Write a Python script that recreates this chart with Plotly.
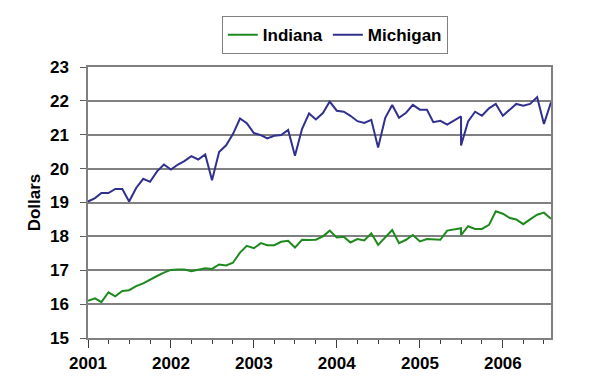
import plotly.graph_objects as go

# Monthly dates (July 2005 appears twice in the source data)
months = [
    "2001-01", "2001-02", "2001-03", "2001-04", "2001-05", "2001-06", "2001-07", "2001-08", "2001-09", "2001-10", "2001-11", "2001-12",
    "2002-01", "2002-02", "2002-03", "2002-04", "2002-05", "2002-06", "2002-07", "2002-08", "2002-09", "2002-10", "2002-11", "2002-12",
    "2003-01", "2003-02", "2003-03", "2003-04", "2003-05", "2003-06", "2003-07", "2003-08", "2003-09", "2003-10", "2003-11", "2003-12",
    "2004-01", "2004-02", "2004-03", "2004-04", "2004-05", "2004-06", "2004-07", "2004-08", "2004-09", "2004-10", "2004-11", "2004-12",
    "2005-01", "2005-02", "2005-03", "2005-04", "2005-05", "2005-06", "2005-07", "2005-07", "2005-08", "2005-09", "2005-10", "2005-11", "2005-12",
    "2006-01", "2006-02", "2006-03", "2006-04", "2006-05", "2006-06", "2006-07", "2006-08",
]

indiana = [
    16.10, 16.17, 16.06, 16.35, 16.23, 16.39, 16.41, 16.53, 16.61, 16.73, 16.83, 16.93,
    17.01, 17.02, 17.02, 16.97, 17.01, 17.06, 17.04, 17.17, 17.14, 17.22, 17.52, 17.72,
    17.65, 17.80, 17.74, 17.74, 17.84, 17.87, 17.67, 17.90, 17.89, 17.90, 18.00, 18.17,
    17.97, 17.99, 17.82, 17.92, 17.88, 18.09, 17.75, 17.97, 18.19, 17.80, 17.90, 18.04,
    17.85, 17.92, 17.90, 17.90, 18.17, 18.21, 18.24, 18.04, 18.30, 18.22, 18.22, 18.34, 18.74,
    18.67, 18.54, 18.50, 18.36, 18.50, 18.64, 18.70, 18.52,
]

michigan = [
    19.03, 19.13, 19.28, 19.28, 19.40, 19.40, 19.03, 19.43, 19.70, 19.61, 19.92, 20.12,
    19.97, 20.12, 20.22, 20.37, 20.27, 20.42, 19.66, 20.49, 20.69, 21.02, 21.48, 21.34,
    21.05, 20.99, 20.89, 20.97, 20.99, 21.14, 20.38, 21.17, 21.63, 21.45, 21.64, 21.98,
    21.71, 21.68, 21.56, 21.40, 21.35, 21.44, 20.62, 21.49, 21.88, 21.50, 21.65, 21.88,
    21.74, 21.74, 21.37, 21.41, 21.30, 21.42, 21.54, 20.68, 21.39, 21.68, 21.56, 21.78, 21.91,
    21.56, 21.76, 21.91, 21.86, 21.91, 22.11, 21.32, 21.96,
]

series_names = ["Indiana", "Michigan"]
y_ticks = [15, 16, 17, 18, 19, 20, 21, 22, 23]

FONT = "Liberation Sans, Arial, sans-serif"
BOLD17 = dict(family=FONT, size=17, color="black", weight="bold")

fig = go.Figure()
fig.add_trace(go.Scatter(x=months, y=indiana, mode="lines", name=series_names[0],
                         line=dict(color="#1E8A1E", width=2)))
fig.add_trace(go.Scatter(x=months, y=michigan, mode="lines", name=series_names[1],
                         line=dict(color="#30308E", width=2)))

# The page body adds an 8px offset, so the figure is sized/margined to compensate.
fig.update_layout(
    width=592, height=369,
    margin=dict(l=80, r=49, t=59, b=39),
    paper_bgcolor="white", plot_bgcolor="white",
    font=dict(family=FONT, size=16, color="black"),
    showlegend=True,
    legend=dict(
        orientation="h", xref="container", yref="container",
        x=0.552, y=0.978, xanchor="center", yanchor="top",
        bordercolor="#808080", borderwidth=1, bgcolor="white",
        font=BOLD17, itemwidth=30,
    ),
    xaxis=dict(
        type="date", automargin=False,
        range=["2001-01-01", "2006-08-01"],
        tick0="2001-01-01", dtick="M12", tickformat="%Y",
        ticks="outside", ticklen=8, tickcolor="#404040", tickwidth=1,
        minor=dict(dtick="M3", ticks="outside", ticklen=4, tickcolor="#404040", tickwidth=1, showgrid=False),
        showgrid=False, zeroline=False,
        showline=True, linecolor="#808080", linewidth=1.5, mirror=True,
        tickfont=BOLD17,
        ticklabelstandoff=1,
    ),
    yaxis=dict(
        automargin=False,
        range=[15, 23], tickvals=y_ticks,
        ticks="outside", ticklen=6, tickcolor="#606060", tickwidth=1,
        showgrid=True, gridcolor="#808080", gridwidth=1.6,
        zeroline=False,
        showline=True, linecolor="#808080", linewidth=1.5, mirror=True,
        tickfont=BOLD17,
        ticklabelstandoff=8,
        title=dict(text="Dollars", font=dict(family=FONT, size=17, color="black", weight="bold"), standoff=5),
    ),
)

fig.write_html("out.html")
